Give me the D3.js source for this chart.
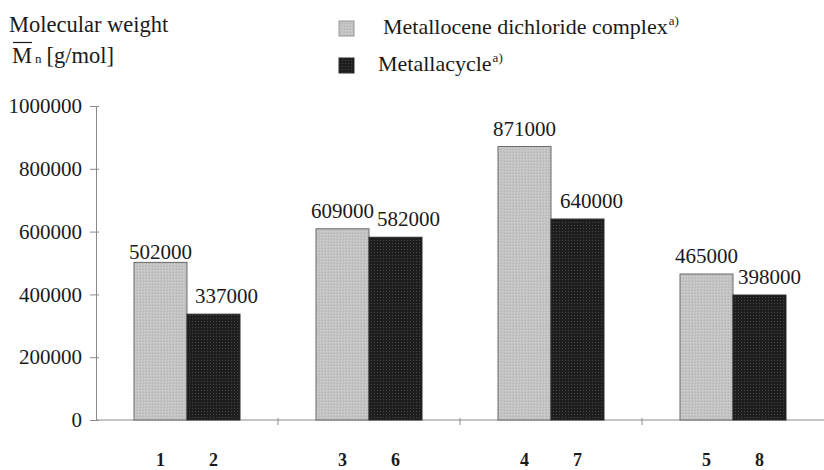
<!DOCTYPE html>
<html>
<head>
<meta charset="utf-8">
<script src="https://cdn.jsdelivr.net/npm/d3@7"></script>
<style>
  html, body { margin: 0; padding: 0; background: #fff; }
</style>
</head>
<body>
<svg id="chart" width="824" height="470"></svg>
<script>
// ---- data ----
const groups = ["A", "B", "C", "D"];
const seriesNames = ["Metallocene dichloride complex", "Metallacycle"];
const categoryLabels = [["1", "2"], ["3", "6"], ["4", "7"], ["5", "8"]];
const metalloceneValues = [502000, 609000, 871000, 465000];
const metallacycleValues = [337000, 582000, 640000, 398000];
const yTicks = [0, 200000, 400000, 600000, 800000, 1000000];

// ---- layout ----
const FONT = "'Liberation Serif', 'Times New Roman', Times, 'DejaVu Serif', serif";
const svg = d3.select("#chart");
const plotLeft = 96, plotRight = 824, plotTop = 106, plotBottom = 420;

const x0 = d3.scaleBand().domain(groups).range([plotLeft, plotRight]).paddingInner(0).paddingOuter(0);
const x1 = d3.scaleBand().domain([0, 1]).range([0, x0.bandwidth()]).paddingInner(0).paddingOuter(0.717);
const y = d3.scaleLinear().domain([0, 1000000]).range([plotBottom, plotTop]);

// patterns
const defs = svg.append("defs");
const pl = defs.append("pattern").attr("id", "pLight").attr("patternUnits", "userSpaceOnUse")
  .attr("width", 3).attr("height", 3);
pl.append("rect").attr("width", 3).attr("height", 3).attr("fill", "#c3c3c3");
pl.append("rect").attr("width", 1).attr("height", 1).attr("fill", "#d3d3d3");
pl.append("rect").attr("x", 2).attr("y", 2).attr("width", 1).attr("height", 1).attr("fill", "#b6b6b6");
const pd = defs.append("pattern").attr("id", "pDark").attr("patternUnits", "userSpaceOnUse")
  .attr("width", 3).attr("height", 3);
pd.append("rect").attr("width", 3).attr("height", 3).attr("fill", "#1e1e1e");
pd.append("rect").attr("width", 1).attr("height", 1).attr("fill", "#464646");

const fills = ["url(#pLight)", "url(#pDark)"];
const strokes = ["#6a6a6a", "#2a2a2a"];

// axes
const yAxis = d3.axisLeft(y).tickValues(yTicks).tickFormat(d3.format("d"))
  .tickSizeInner(6).tickSizeOuter(0).tickPadding(8);
const gy = svg.append("g").attr("transform", `translate(${plotLeft},0)`).call(yAxis)
  .attr("font-family", null).attr("font-size", null);
gy.select(".domain").attr("stroke", "#8a8a8a");
gy.selectAll(".tick line").attr("stroke", "#8a8a8a").attr("x2", 3).attr("x1", -6);
gy.selectAll(".tick text").style("font-size", "21px").style("font-family", FONT).attr("fill", "#1a1a1a");

// x axis baseline with group-boundary ticks
const xAxisG = svg.append("g");
xAxisG.append("line").attr("x1", plotLeft).attr("x2", plotRight).attr("y1", y(0)).attr("y2", y(0))
  .attr("stroke", "#8a8a8a");
xAxisG.selectAll("line.gt").data(groups.slice(1)).enter().append("line")
  .attr("class", "gt")
  .attr("x1", d => x0(d)).attr("x2", d => x0(d))
  .attr("y1", y(0) - 2).attr("y2", y(0) + 5).attr("stroke", "#8a8a8a");

// bars
const rows = groups.map((g, i) => ({ g, i, vals: [metalloceneValues[i], metallacycleValues[i]] }));
const gg = svg.selectAll("g.grp").data(rows).enter().append("g")
  .attr("class", "grp").attr("transform", d => `translate(${x0(d.g)},0)`);

gg.selectAll("rect").data(d => d.vals.map((v, s) => ({ v, s }))).enter().append("rect")
  .attr("x", d => x1(d.s)).attr("width", x1.bandwidth())
  .attr("y", d => y(d.v)).attr("height", d => y(0) - y(d.v))
  .attr("fill", d => fills[d.s]).attr("stroke", d => strokes[d.s]).attr("stroke-width", 1);

// value labels (small nudges where the original avoided overlaps)
const labelNudge = [[[0, 8], [13, 0]], [[0, 0], [13, 0]], [[0, 0], [14, 0]], [[0, 0], [10, 0]]];
gg.selectAll("text.val").data(d => d.vals.map((v, s) => ({ v, s, i: d.i }))).enter().append("text")
  .attr("class", "val")
  .attr("x", d => x1(d.s) + x1.bandwidth() / 2 + labelNudge[d.i][d.s][0])
  .attr("y", d => y(d.v) - 11 + labelNudge[d.i][d.s][1])
  .attr("text-anchor", "middle")
  .style("font-family", FONT).style("font-size", "21px").attr("fill", "#1a1a1a")
  .text(d => d.v);

// category labels
gg.selectAll("text.cat").data(d => categoryLabels[d.i].map((c, s) => ({ c, s }))).enter().append("text")
  .attr("class", "cat")
  .attr("x", d => x1(d.s) + x1.bandwidth() / 2)
  .attr("y", 466)
  .attr("text-anchor", "middle")
  .style("font-family", FONT).style("font-size", "18px").style("font-weight", "bold").attr("fill", "#1a1a1a")
  .text(d => d.c);

// y title
svg.append("text").attr("x", 9).attr("y", 32)
  .style("font-family", FONT).style("font-size", "22.5px").attr("fill", "#1a1a1a").text("Molecular weight");
const t2 = svg.append("text").attr("x", 12).attr("y", 63)
  .style("font-family", FONT).style("font-size", "22.5px").attr("fill", "#1a1a1a");
t2.append("tspan").text("M");
t2.append("tspan").style("font-size", "13px").attr("dx", 3).text("n");
t2.append("tspan").attr("dx", 5).text("[g/mol]");
svg.append("line").attr("x1", 13).attr("x2", 32).attr("y1", 42.5).attr("y2", 42.5)
  .attr("stroke", "#1a1a1a").attr("stroke-width", 1.2);

// legend
const leg = svg.append("g");
const legY = [28, 65];
const legX = [383, 378];
seriesNames.forEach((name, s) => {
  leg.append("rect").attr("x", 339).attr("y", legY[s] - 7).attr("width", 15).attr("height", 15)
    .attr("fill", fills[s]).attr("stroke", s ? "#2a2a2a" : "#999").attr("stroke-width", 1);
  const t = leg.append("text").attr("x", legX[s]).attr("y", legY[s] + 6)
    .style("font-family", FONT).style("font-size", "22px").attr("fill", "#1a1a1a");
  t.append("tspan").text(name);
  t.append("tspan").style("font-size", "13px").attr("dy", -9).attr("dx", 1).text("a)");
});
</script>
</body>
</html>
